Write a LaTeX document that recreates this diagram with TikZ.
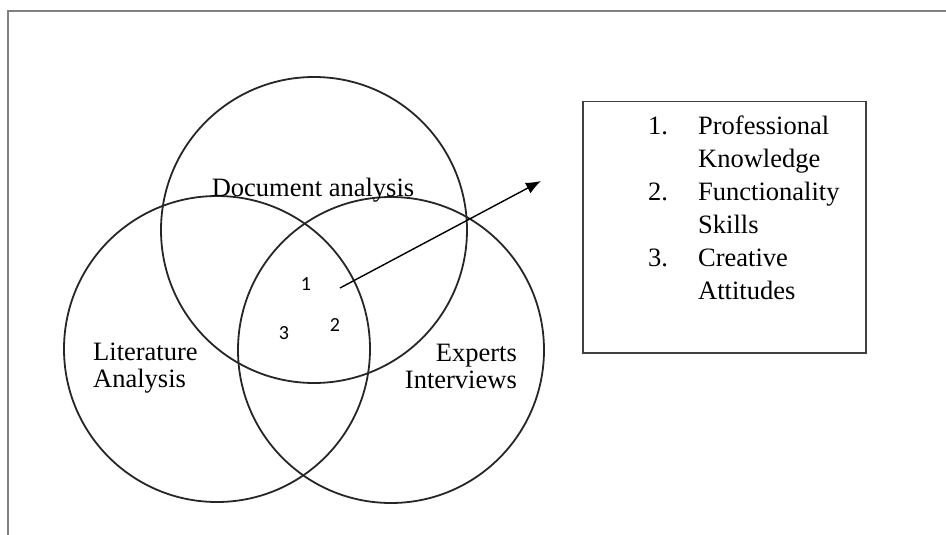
\documentclass[tikz,border=0pt]{standalone}
\usepackage{fontspec}
\setmainfont{Liberation Serif}
\newfontfamily\numfont{Carlito}
\usetikzlibrary{arrows.meta,positioning}

\tikzset{
    ring/.style={circle,draw=black!85,line width=1.8pt,minimum size=306pt,inner sep=0pt},
    lbl/.style={inner sep=0pt,font=\fontsize{26.5}{27}\selectfont},
    num/.style={inner sep=0pt,font=\numfont\fontsize{20}{20}\selectfont},
    link/.style={-{Latex[length=15pt,width=12pt]},line width=1.4pt}
}

\begin{document}
\begin{tikzpicture}[x=1pt,y=-1pt]
    \useasboundingbox (0,0) rectangle (946,535);

    % frame
    \draw[black!50,line width=2pt] (946,11) -- (8,11) -- (8,535);

    % three sources
    \node[ring] (doc) at (314,230) {};
    \node[ring] (lit) at (217,349) {};
    \node[ring] (exp) at (391,350) {};

    \node[lbl] (doctext) at (313,190) {Document analysis};
    \node[lbl,align=left,anchor=west] (littext) at (93,368) {Literature\\Analysis};
    \node[lbl,align=right,anchor=east] (exptext) at (517,366) {Experts\\Interviews};

    % overlap
    \node[num] (one) at (306,284) {1};
    \node[num] (two) at (335,325) {2};
    \node[num] (three) at (284,333) {3};

    \coordinate (from) at (340,288);
    \coordinate (to) at (541,181);
    \draw[link] (from) -- (to);

    % list of outcomes
    \node[draw=black!75,line width=1.5pt,minimum width=283pt,minimum height=251pt,anchor=north west] (box) at (582,101) {};
    \node[anchor=north west,inner sep=0pt,font=\fontsize{26.5}{33}\selectfont] (items) at (648,111) {%
        \begin{tabular}{@{}p{50pt}@{}l@{}}
        1. & Professional\\
           & Knowledge\\
        2. & Functionality\\
           & Skills\\
        3. & Creative\\
           & Attitudes
        \end{tabular}};

\end{tikzpicture}
\end{document}
